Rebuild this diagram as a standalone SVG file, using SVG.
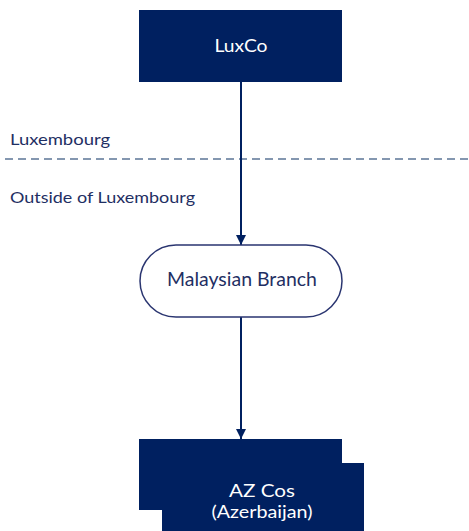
<svg xmlns="http://www.w3.org/2000/svg" width="469" height="531" viewBox="0 0 469 531">
  <defs>
    <style>
      .box { fill: #002060; }
      .pill { fill: #ffffff; stroke: #2a3570; stroke-width: 1.5; }
      .wt { fill: #ffffff; font-family: "Lato", "Open Sans", "Liberation Sans", sans-serif; text-anchor: middle; }
      .nt { fill: #1f2f63; font-family: "Lato", "Open Sans", "Liberation Sans", sans-serif; }
      .edge { stroke: #002060; stroke-width: 2; fill: none; }
    </style>
    <marker id="arr" viewBox="0 0 10 10" refX="10" refY="5" markerWidth="10" markerHeight="10" markerUnits="userSpaceOnUse" orient="auto">
      <path d="M0,0 L10,5 L0,10 Z" fill="#002060"/>
    </marker>
  </defs>
  <rect width="469" height="531" fill="#ffffff"/>

  <g id="region-labels">
    <line x1="5" y1="159" x2="469" y2="159" stroke="#8497b0" stroke-width="2" stroke-dasharray="8,5"/>
    <text class="nt" x="10" y="145" font-size="16" textLength="100" lengthAdjust="spacingAndGlyphs">Luxembourg</text>
    <text class="nt" x="10" y="203" font-size="16" textLength="185" lengthAdjust="spacingAndGlyphs">Outside of Luxembourg</text>
  </g>

  <g id="connectors">
    <line class="edge" x1="241" y1="82" x2="241" y2="245" marker-end="url(#arr)"/>
    <line class="edge" x1="241" y1="317" x2="241" y2="439" marker-end="url(#arr)"/>
  </g>

  <g id="luxco">
    <rect class="box" x="139" y="10" width="203" height="72"/>
    <text class="wt" x="241" y="52" font-size="18" textLength="53" lengthAdjust="spacingAndGlyphs">LuxCo</text>
  </g>

  <g id="malaysian-branch">
    <rect class="pill" x="140" y="245" width="202" height="72" rx="36" ry="36"/>
    <text class="nt" x="242" y="286" font-size="19" text-anchor="middle" textLength="150" lengthAdjust="spacingAndGlyphs">Malaysian Branch</text>
  </g>

  <g id="az-cos">
    <rect class="box" x="162" y="463" width="202" height="72"/>
    <rect class="box" x="139" y="439" width="203" height="71"/>
    <text class="wt" x="262" y="497" font-size="18" textLength="66" lengthAdjust="spacingAndGlyphs">AZ Cos</text>
    <text class="wt" x="262" y="518" font-size="17" textLength="101" lengthAdjust="spacingAndGlyphs">(Azerbaijan)</text>
  </g>
</svg>
